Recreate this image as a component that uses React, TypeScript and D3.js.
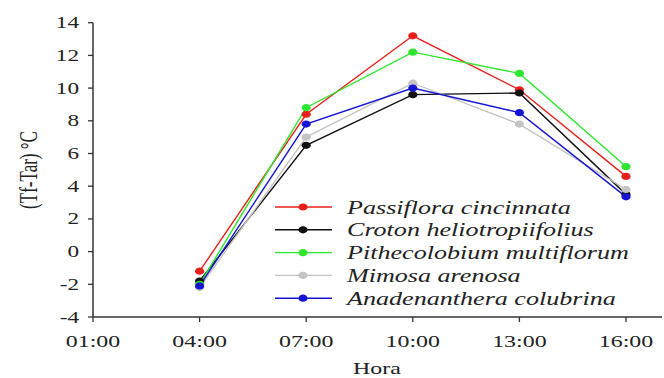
import React, { useEffect, useRef } from "react";
import * as d3 from "d3";

const hours = ["01:00", "04:00", "07:00", "10:00", "13:00", "16:00"];
const dataHours = ["04:00", "07:00", "10:00", "13:00", "16:00"];
const yTicks = [-4, -2, 0, 2, 4, 6, 8, 10, 12, 14];

const species = [
  "Passiflora cincinnata",
  "Croton heliotropiifolius",
  "Pithecolobium multiflorum",
  "Mimosa arenosa",
  "Anadenanthera colubrina",
];
const colors = ["#e8201c", "#111111", "#2ee62e", "#c4c4c4", "#1414d2"];

const passiflora = [-1.2, 8.4, 13.2, 9.9, 4.6];
const croton = [-1.8, 6.5, 9.6, 9.7, 3.5];
const pithecolobium = [-2.0, 8.8, 12.2, 10.9, 5.2];
const mimosa = [-2.2, 7.0, 10.3, 7.8, 3.8];
const anadenanthera = [-2.1, 7.8, 10.0, 8.5, 3.35];

const series = [passiflora, croton, pithecolobium, mimosa, anadenanthera];

const SX = 1.45; // horizontal stretch of the original picture

function Chart() {
  const ref = useRef<SVGSVGElement | null>(null);

  useEffect(() => {
    const node = ref.current;
    if (!node) return;
    const svg = d3.select(node);
    svg.selectAll("*").remove();

    const x = d3.scalePoint<string>().domain(hours).range([93, 626]);
    const y = d3.scaleLinear().domain([-4, 14]).range([317, 22.7]);
    const font = "'Liberation Serif', 'Times New Roman', serif";
    const axisColor = "#333";

    // axes
    svg.append("line")
      .attr("x1", 93).attr("x2", 93)
      .attr("y1", y(14)).attr("y2", y(-4))
      .attr("stroke", axisColor).attr("stroke-width", 1.5);
    svg.append("line")
      .attr("x1", 93).attr("x2", 662)
      .attr("y1", y(-4)).attr("y2", y(-4))
      .attr("stroke", axisColor).attr("stroke-width", 1.5);

    yTicks.forEach(t => {
      svg.append("line")
        .attr("x1", 88).attr("x2", 93)
        .attr("y1", y(t)).attr("y2", y(t))
        .attr("stroke", axisColor).attr("stroke-width", 1.3);
      svg.append("text")
        .attr("transform", `translate(79,${y(t) + 5.5}) scale(${SX},1)`)
        .attr("text-anchor", "end")
        .attr("font-family", font)
        .attr("font-size", 16)
        .attr("fill", "#222")
        .text(t);
    });

    hours.forEach(h => {
      svg.append("line")
        .attr("x1", x(h)!).attr("x2", x(h)!)
        .attr("y1", y(-4)).attr("y2", y(-4) + 5)
        .attr("stroke", axisColor).attr("stroke-width", 1.3);
      svg.append("text")
        .attr("transform", `translate(${x(h)},347) scale(${SX},1)`)
        .attr("text-anchor", "middle")
        .attr("font-family", font)
        .attr("font-size", 16.5)
        .attr("fill", "#222")
        .text(h);
    });

    svg.append("text")
      .attr("transform", `translate(377,374) scale(${SX},1)`)
      .attr("text-anchor", "middle")
      .attr("font-family", font)
      .attr("font-size", 16.5)
      .attr("fill", "#222")
      .text("Hora");

    svg.append("text")
      .attr("transform", `translate(37,170) scale(${SX},1) rotate(-90)`)
      .attr("text-anchor", "middle")
      .attr("font-family", font)
      .attr("font-size", 17)
      .attr("fill", "#222")
      .text("(Tf-Tar) °C");

    // lines and markers
    const line = d3.line<number>()
      .x((d, i) => x(dataHours[i])!)
      .y(d => y(d));

    series.forEach((s, k) => {
      svg.append("path")
        .attr("d", line(s)!)
        .attr("fill", "none")
        .attr("stroke", colors[k])
        .attr("stroke-width", 1.4);
    });
    series.forEach((s, k) => {
      svg.selectAll(null)
        .data(s)
        .enter()
        .append("ellipse")
        .attr("cx", (d, i) => x(dataHours[i])!)
        .attr("cy", d => y(d))
        .attr("rx", 4.6)
        .attr("ry", 3.6)
        .attr("fill", colors[k]);
    });

    // legend
    species.forEach((name, k) => {
      const ly = 207 + k * 22.8;
      svg.append("line")
        .attr("x1", 275).attr("x2", 332)
        .attr("y1", ly).attr("y2", ly)
        .attr("stroke", colors[k]).attr("stroke-width", 1.4);
      svg.append("ellipse")
        .attr("cx", 303).attr("cy", ly)
        .attr("rx", 4.6).attr("ry", 3.6)
        .attr("fill", colors[k]);
      svg.append("text")
        .attr("transform", `translate(347,${ly + 6.5}) scale(${SX},1)`)
        .attr("font-family", font)
        .attr("font-style", "italic")
        .attr("font-size", 18)
        .attr("fill", "#222")
        .text(name);
    });
  }, []);

  return (
    <svg
      ref={ref}
      width={664}
      height={378}
      style={{ position: "absolute", left: 0, top: 0, background: "#fff" }}
    />
  );
}

export default function App() {
  return <Chart />;
}
